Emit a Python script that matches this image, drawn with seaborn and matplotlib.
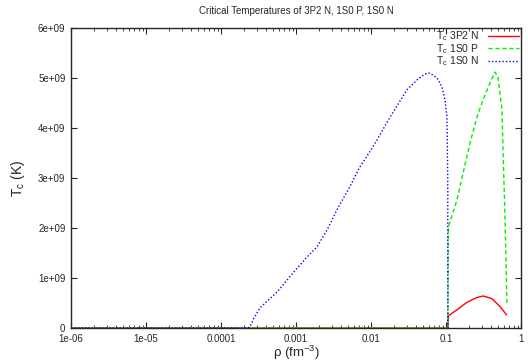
import matplotlib
matplotlib.use("Agg")
import matplotlib.pyplot as plt
import seaborn as sns
import numpy as np
import pandas as pd
from matplotlib.ticker import LogLocator, NullFormatter, FixedLocator, FixedFormatter

# ---- data ----
rho_3p2n = [1e-6, 0.106, 0.107, 0.139, 0.189, 0.257, 0.314, 0.407, 0.525, 0.644]
tc_3p2n = [0, 0, 0.24e9, 0.36e9, 0.51e9, 0.61e9, 0.64e9, 0.59e9, 0.43e9, 0.26e9]

rho_1s0p = [1e-6, 0.106, 0.107, 0.109, 0.140, 0.169, 0.209, 0.259, 0.311, 0.386,
            0.45, 0.493, 0.558, 0.575, 0.612, 0.65]
tc_1s0p = [0, 0, 1.9e9, 2.05e9, 2.56e9, 3.1e9, 3.7e9, 4.22e9, 4.56e9, 4.9e9,
           5.12e9, 5.02e9, 4.36e9, 3.56e9, 2.22e9, 0.46e9]

rho_1s0n = [1e-6, 2.3e-4, 2.5e-4, 2.75e-4, 3.3e-4, 5.6e-4, 9.1e-4, 1.4e-3, 1.9e-3,
            2.6e-3, 3.5e-3, 5.2e-3, 7.1e-3, 1.06e-2, 1.8e-2, 3.0e-2, 4.1e-2,
            5.2e-2, 6.1e-2, 7.6e-2, 8.85e-2, 9.7e-2, 0.103, 0.1055, 0.106]
tc_1s0n = [0, 0, 0.06e9, 0.2e9, 0.4e9, 0.72e9, 1.1e9, 1.42e9, 1.62e9,
           1.96e9, 2.36e9, 2.82e9, 3.22e9, 3.62e9, 4.22e9, 4.76e9, 4.96e9,
           5.08e9, 5.1e9, 5.0e9, 4.82e9, 4.56e9, 4.22e9, 3.0e9, 0]

series_labels = ["T$_c$ 3P2 N", "T$_c$ 1S0 P", "T$_c$ 1S0 N"]
x_tick_values = [1e-6, 1e-5, 1e-4, 1e-3, 1e-2, 1e-1, 1]
x_tick_labels = ["1e-06", "1e-05", "0.0001", "0.001", "0.01", "0.1", "1"]
y_tick_values = [0, 1e9, 2e9, 3e9, 4e9, 5e9, 6e9]
y_tick_labels = ["0", "1e+09", "2e+09", "3e+09", "4e+09", "5e+09", "6e+09"]
title = "Critical Temperatures of 3P2 N, 1S0 P, 1S0 N"

sns.set_style("ticks")
plt.rcParams['font.family'] = ['Liberation Sans', 'DejaVu Sans']
plt.rcParams['mathtext.fontset'] = 'custom'
plt.rcParams['mathtext.rm'] = 'Liberation Sans'
plt.rcParams['mathtext.it'] = 'Liberation Sans'

fig = plt.figure(figsize=(5.28, 3.64), dpi=100)
ax = fig.add_axes([71/528, 36/364, 450/528, 300/364])

styles = [("#ff0000", "-"), ("#00ee00", (0, (3, 2))), ("#0000ff", (0, (1, 1.5)))]
datasets = [(rho_3p2n, tc_3p2n), (rho_1s0p, tc_1s0p), (rho_1s0n, tc_1s0n)]
for (xs, ys), (c, ls), lab in zip(datasets, styles, series_labels):
    df = pd.DataFrame({"rho": xs, "tc": ys})
    sns.lineplot(data=df, x="rho", y="tc", ax=ax, color=c, linestyle=ls,
                 linewidth=1.0, label=lab, estimator=None, sort=False)

ax.set_xscale("log")
ax.set_xlim(1e-6, 1)
ax.set_ylim(0, 6e9)
ax.xaxis.set_major_locator(FixedLocator(x_tick_values))
ax.xaxis.set_major_formatter(FixedFormatter(x_tick_labels))
ax.xaxis.set_minor_locator(LogLocator(base=10, subs=np.arange(2, 10), numticks=20))
ax.xaxis.set_minor_formatter(NullFormatter())
ax.yaxis.set_major_locator(FixedLocator(y_tick_values))
ax.yaxis.set_major_formatter(FixedFormatter(y_tick_labels))

ax.tick_params(axis="both", which="major", direction="in", length=4, width=0.8,
               top=True, right=True, labelsize=7)
ax.tick_params(axis="x", which="major", pad=4)
ax.tick_params(axis="y", which="major", pad=4)
ax.tick_params(axis="x", which="minor", direction="in", length=2, width=0.6,
               top=True, bottom=True)
for sp in ax.spines.values():
    sp.set_linewidth(1.0)

ax.set_xlabel(r"ρ (fm$^{-3}$)", fontsize=9.5)
ax.xaxis.set_label_coords(0.5, -0.053)
ax.set_ylabel(r"T$_c$ (K)", fontsize=10, labelpad=8)
ax.set_title(title, fontsize=7, pad=10)

leg = ax.legend(loc="upper right", frameon=False, markerfirst=False, fontsize=7.5,
                handlelength=3.0, labelspacing=-0.12, borderaxespad=0.0,
                borderpad=0.15, handletextpad=0.9)
for t in leg.get_texts():
    t.set_ha("right")

fig.savefig("out.png", dpi=100)
